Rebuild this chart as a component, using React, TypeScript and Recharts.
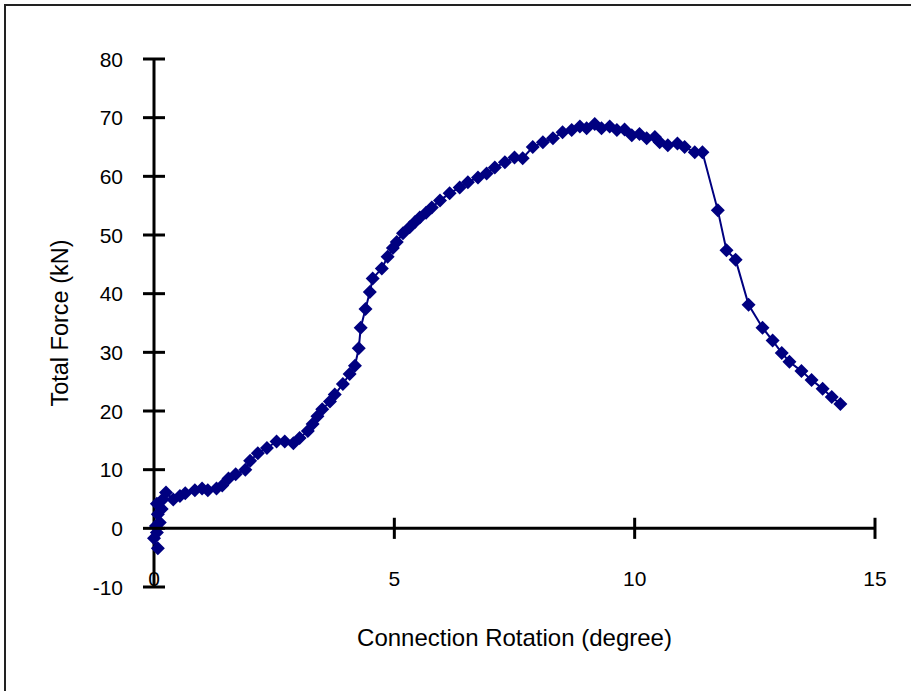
import { LineChart, Line, XAxis, YAxis, ReferenceLine } from 'recharts';

// Connection rotation (degree) vs total force (kN)
const rotation = [
  0.08, 0.0, 0.06, 0.04, 0.12, 0.08, 0.16, 0.06, 0.18, 0.25,
  0.4, 0.54, 0.65, 0.85, 1.0, 1.12, 1.3, 1.42, 1.55, 1.7,
  1.9, 2.0, 2.16, 2.35, 2.55, 2.72, 2.9, 3.03, 3.2, 3.3,
  3.4, 3.5, 3.66, 3.76, 3.93, 4.07, 4.18, 4.26, 4.3, 4.4,
  4.49, 4.55, 4.74, 4.86, 4.97, 5.05, 5.18, 5.32, 5.43, 5.53,
  5.66, 5.78, 5.95, 6.15, 6.36, 6.53, 6.74, 6.92, 7.09, 7.3,
  7.5, 7.67, 7.88, 8.09, 8.3, 8.5, 8.69, 8.86, 9.0, 9.17,
  9.31, 9.48, 9.63, 9.79, 9.94, 10.1, 10.25, 10.42, 10.52, 10.69,
  10.89, 11.04, 11.25, 11.41, 11.73, 11.91, 12.1, 12.37, 12.66, 12.87,
  13.06, 13.22, 13.47, 13.68, 13.91, 14.1, 14.28,
];
const force = [
  -3.4, -1.7, -0.7, 0.4, 1.0, 2.4, 3.3, 4.2, 4.9, 6.1,
  4.9, 5.5, 6.0, 6.5, 6.8, 6.5, 6.8, 7.3, 8.5, 9.2,
  10.0, 11.5, 12.8, 13.7, 14.8, 14.8, 14.5, 15.4, 16.6, 17.8,
  19.1, 20.3, 21.6, 22.8, 24.6, 26.3, 27.7, 30.7, 34.2, 37.4,
  40.3, 42.6, 44.3, 46.3, 47.8, 48.8, 50.3, 51.3, 52.2, 53.0,
  53.8, 54.7, 55.9, 57.1, 58.1, 59.0, 59.8, 60.5, 61.5, 62.4,
  63.2, 63.1, 65.0, 65.8, 66.5, 67.5, 67.9, 68.5, 68.2, 68.9,
  68.2, 68.5, 67.9, 68.0, 67.0, 67.2, 66.5, 66.7, 65.8, 65.3,
  65.6, 65.0, 64.1, 64.1, 54.2, 47.4, 45.8, 38.1, 34.2, 32.0,
  29.9, 28.4, 26.8, 25.3, 23.8, 22.4, 21.2,
];

const xTicks = [0, 5, 10, 15];
const yTicks = [-10, 0, 10, 20, 30, 40, 50, 60, 70, 80];

const data = rotation.map((r, i) => ({ rotation: r, force: force[i] }));

const FONT = '"Liberation Sans", Arial, sans-serif';
const NAVY = '#000080';

function YTick({ x, y, payload }: any) {
  return (
    <g>
      <line x1={x - 11} x2={x + 11} y1={y} y2={y} stroke="#000" strokeWidth={3} />
      <text x={x - 31} y={y} dy="0.36em" textAnchor="end" fontSize={21} fontFamily={FONT} fill="#000">
        {payload.value}
      </text>
    </g>
  );
}

function XTick({ x, y, payload }: any) {
  return (
    <text x={x} y={y - 9} dy="0.36em" textAnchor="middle" fontSize={21} fontFamily={FONT} fill="#000">
      {payload.value}
    </text>
  );
}

function Diamond(p: any) {
  const { cx, cy, index } = p;
  if (cx == null || cy == null) return <g key={`d${index}`} />;
  const r = 7;
  return (
    <polygon
      key={`d${index}`}
      points={`${cx},${cy - r} ${cx + r},${cy} ${cx},${cy + r} ${cx - r},${cy}`}
      fill={NAVY}
    />
  );
}

export default function App() {
  return (
    <div style={{ position: 'absolute', left: 0, top: 0, width: 911, height: 691, overflow: 'hidden', background: '#fff' }}>
      <div
        style={{
          position: 'absolute',
          left: 4,
          top: 4,
          width: 1000,
          height: 800,
          borderLeft: '2px solid #222',
          borderTop: '2px solid #222',
        }}
      />
      <div style={{ position: 'absolute', left: 0, top: 0 }}>
        <LineChart width={911} height={691} data={data} margin={{ top: 59, right: 36, bottom: 74, left: 34 }}>
          <XAxis
            type="number"
            dataKey="rotation"
            domain={[0, 15]}
            ticks={xTicks}
            axisLine={false}
            tickLine={false}
            tickSize={0}
            tickMargin={0}
            height={30}
            tick={<XTick />}
            interval={0}
            label={{
              value: 'Connection Rotation (degree)',
              position: 'bottom',
              offset: 12,
              fontSize: 24,
              fontFamily: FONT,
              fill: '#000',
            }}
          />
          <YAxis
            type="number"
            domain={[-10, 80]}
            ticks={yTicks}
            width={120}
            axisLine={{ stroke: '#000', strokeWidth: 3 }}
            tickLine={false}
            tickSize={0}
            tickMargin={0}
            tick={<YTick />}
            interval={0}
            label={{
              value: 'Total Force (kN)',
              angle: -90,
              position: 'insideLeft',
              offset: 26,
              fontSize: 23.5,
              fontFamily: FONT,
              fill: '#000',
              style: { textAnchor: 'middle' },
            }}
          />
          <ReferenceLine y={0} stroke="#000" strokeWidth={3} />
          {xTicks.slice(1).map((t) => (
            <ReferenceLine
              key={t}
              segment={[
                { x: t, y: -1.8 },
                { x: t, y: 1.8 },
              ]}
              stroke="#000"
              strokeWidth={3}
            />
          ))}
          <Line
            type="linear"
            dataKey="force"
            stroke={NAVY}
            strokeWidth={2}
            dot={Diamond}
            activeDot={false}
            isAnimationActive={false}
          />
        </LineChart>
      </div>
    </div>
  );
}
